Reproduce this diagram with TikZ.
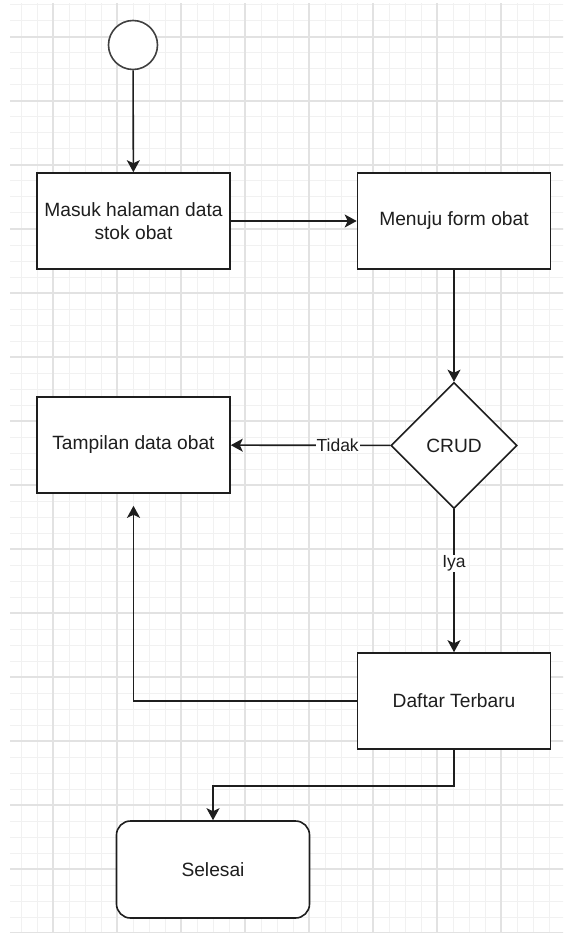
\documentclass[tikz,border=0pt]{standalone}
\usepackage{fontspec}
\setmainfont{Liberation Sans}
\usetikzlibrary{shapes.geometric,arrows.meta}

\definecolor{gridminor}{HTML}{F1F1F1}
\definecolor{gridmajor}{HTML}{E2E2E2}
\definecolor{ink}{HTML}{1E1E1E}

\tikzset{
  base/.style={draw=ink, line width=1.6pt, fill=white, text=ink, inner sep=0pt,
    font=\fontsize{19.2}{23}\selectfont, align=center},
  stepbox/.style={base, rectangle, minimum width=193pt, minimum height=96pt},
  endbox/.style={base, rectangle, rounded corners=14pt, minimum width=193pt, minimum height=97pt},
  startdot/.style={base, circle, draw=ink!85, minimum size=49pt},
  decision/.style={base, diamond, minimum width=126pt, minimum height=126pt},
  flow/.style={draw=ink, line width=1.6pt, -{Stealth[length=12pt,width=13pt,inset=3pt]}},
  edgelabel/.style={fill=white, text=ink, inner sep=1pt, font=\fontsize{17.5}{20}\selectfont},
  gminor/.style={draw=gridminor, line width=1pt},
  gmajor/.style={draw=gridmajor, line width=1.2pt}
}

\begin{document}
\begin{tikzpicture}[x=1pt, y=-1pt]
  \useasboundingbox (0,0) rectangle (563,933);

  % background grid
  \begin{scope}
    \clip (10,4) rectangle (563,932);
    \foreach \x in {5,21,...,581} \draw[gminor] (\x,0) -- (\x,940);
    \foreach \y in {5,21,...,949} \draw[gminor] (0,\y) -- (570,\y);
    \foreach \x in {53,117,...,565} \draw[gmajor] (\x,0) -- (\x,940);
    \foreach \y in {37,101,...,933} \draw[gmajor] (0,\y) -- (570,\y);
  \end{scope}

  % activity nodes
  \node[startdot] (start) at (133,45) {};
  \node[stepbox] (enter) at (133.5,221) {Masuk halaman data\\stok obat};
  \node[stepbox] (form) at (454,221) {Menuju form obat};
  \node[decision] (crud) at (454,445.5) {CRUD};
  \node[stepbox] (show) at (133.5,445) {Tampilan data obat};
  \node[stepbox] (latest) at (454,701) {Daftar Terbaru};
  \node[endbox] (done) at (213,869.5) {Selesai};

  % flow
  \draw[flow] (start) -- (enter);
  \draw[flow] (enter) -- (form);
  \draw[flow] (form) -- (crud);
  \draw[flow] (crud) -- node[edgelabel, pos=0.33] {Tidak} (show);
  \draw[flow] (crud) -- node[edgelabel, pos=0.38] {Iya} (latest);
  \draw[flow, shorten >=12pt] (latest.west) -| (show.south);
  \draw[flow] (latest.south) -- ++(0,36) -| (done.north);
\end{tikzpicture}
\end{document}
